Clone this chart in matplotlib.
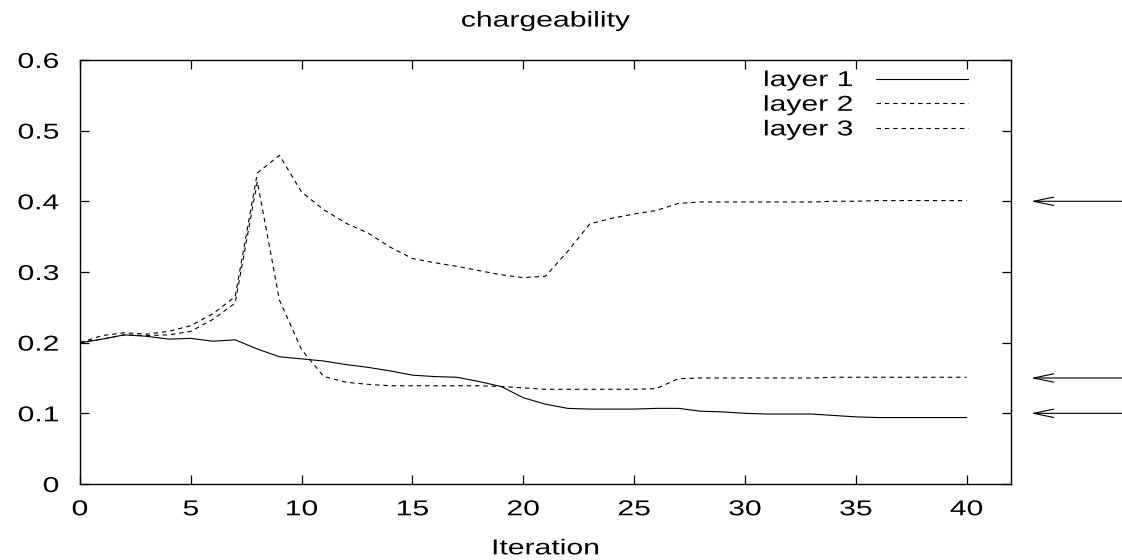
import numpy as np
import matplotlib
matplotlib.use("Agg")
import matplotlib.pyplot as plt
from matplotlib.patheffects import AbstractPathEffect
from matplotlib.transforms import Affine2D

plt.rcParams["font.family"] = ["Liberation Sans", "DejaVu Sans"]

# iteraciones y cargabilidad por capa
iteration = list(range(41))
layer1 = [0.200, 0.205, 0.211, 0.209, 0.205, 0.206, 0.202, 0.204, 0.191, 0.180,
          0.177, 0.174, 0.169, 0.165, 0.160, 0.154, 0.152, 0.151, 0.145, 0.138,
          0.122, 0.113, 0.107, 0.106, 0.106, 0.106, 0.107, 0.107, 0.103, 0.102,
          0.100, 0.099, 0.099, 0.099, 0.097, 0.095, 0.094, 0.094, 0.094, 0.094,
          0.094]
layer2 = [0.200, 0.210, 0.214, 0.212, 0.216, 0.224, 0.241, 0.265, 0.440, 0.465,
          0.413, 0.388, 0.369, 0.355, 0.335, 0.319, 0.313, 0.308, 0.302, 0.296,
          0.292, 0.294, 0.329, 0.368, 0.376, 0.382, 0.387, 0.397, 0.399, 0.399,
          0.399, 0.399, 0.399, 0.399, 0.400, 0.400, 0.401, 0.401, 0.401, 0.401,
          0.401]
layer3 = [0.200, 0.205, 0.211, 0.210, 0.211, 0.216, 0.233, 0.256, 0.428, 0.260,
          0.190, 0.152, 0.144, 0.141, 0.139, 0.139, 0.139, 0.139, 0.139, 0.138,
          0.136, 0.134, 0.134, 0.134, 0.134, 0.134, 0.135, 0.149, 0.150, 0.150,
          0.150, 0.150, 0.150, 0.150, 0.151, 0.151, 0.151, 0.151, 0.151, 0.151,
          0.151]
# valores verdaderos del modelo
true_values = [0.4, 0.15, 0.1]

xticks = [0, 5, 10, 15, 20, 25, 30, 35, 40]
yticks = [0, 0.1, 0.2, 0.3, 0.4, 0.5, 0.6]
ytick_labels = ["0", "0.1", "0.2", "0.3", "0.4", "0.5", "0.6"]

FS = 15.5
SX = 1.4


class Ensanchar(AbstractPathEffect):
    """Estira el texto en horizontal alrededor de un punto de anclaje."""

    def __init__(self, sx, anchor=0.5):
        super().__init__()
        self.sx = sx
        self.anchor = anchor

    def draw_path(self, renderer, gc, tpath, affine, rgbFace=None):
        ext = tpath.get_extents()
        cx = ext.x0 + self.anchor * ext.width
        t = Affine2D().translate(-cx, 0).scale(self.sx, 1).translate(cx, 0)
        renderer.draw_path(gc, tpath, t + affine, rgbFace)


fig = plt.figure(figsize=(11.22, 5.6), dpi=100)
ax = fig.add_axes([0.0713, 0.1357, 0.8297, 0.7573])

ax.plot(iteration, layer1, color="black", lw=0.8, label="layer 1")
ax.plot(iteration, layer2, color="black", lw=0.8, linestyle=(0, (4, 3.5)), label="layer 2")
ax.plot(iteration, layer3, color="black", lw=0.8, linestyle=(0, (4, 3.5)), label="layer 3")

for v in true_values:
    ax.annotate("", xy=(42.9, v), xytext=(48, v), annotation_clip=False,
                arrowprops=dict(arrowstyle="->,head_length=1.45,head_width=0.3",
                                lw=0.8, color="black", shrinkA=0, shrinkB=0))

ax.set_xlim(0, 42)
ax.set_ylim(0, 0.6)
ax.set_xticks(xticks)
ax.set_yticks(yticks)
ax.set_yticklabels(ytick_labels)
ax.tick_params(direction="in", length=6.5, width=0.9, top=True, right=True,
               labelsize=FS)
ax.tick_params(axis="x", pad=11)
ax.tick_params(axis="y", pad=15)
for s in ax.spines.values():
    s.set_linewidth(1.0)

for lbl in ax.get_xticklabels():
    lbl.set_path_effects([Ensanchar(SX, 0.5)])
for lbl in ax.get_yticklabels():
    lbl.set_path_effects([Ensanchar(SX, 1.0)])

t = ax.set_title("chargeability", fontsize=FS, pad=24)
t.set_path_effects([Ensanchar(SX, 0.5)])
xl = ax.set_xlabel("Iteration", fontsize=FS, labelpad=13)
xl.set_path_effects([Ensanchar(SX, 0.5)])

leg = ax.legend(loc="upper right", bbox_to_anchor=(0.954, 0.976), frameon=False,
                markerfirst=False, fontsize=FS, handlelength=4.3, handletextpad=1.05,
                labelspacing=0.17, borderpad=0, borderaxespad=0)
for txt in leg.get_texts():
    txt.set_path_effects([Ensanchar(SX, 1.0)])

fig.savefig("out.png", dpi=100)
